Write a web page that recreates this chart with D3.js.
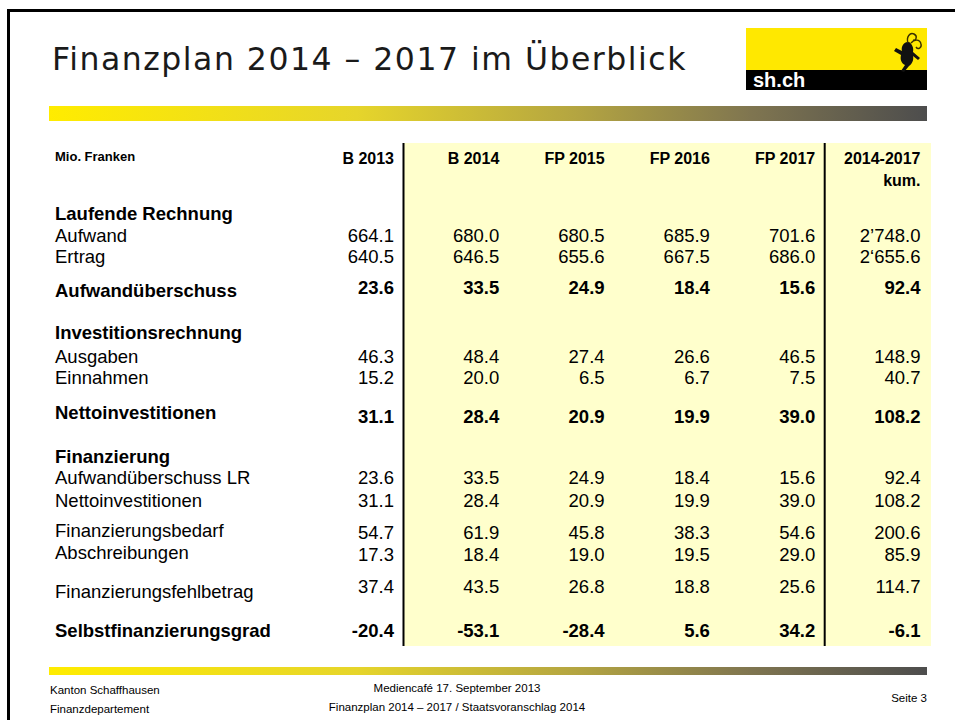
<!DOCTYPE html>
<html>
<meta charset="utf-8">
<script src="https://d3js.org/d3.v7.min.js"></script>
<style>
    body { margin: 0; background: #fff; }
    svg { display: block; }
    text { font-family: "Liberation Sans", Arial, sans-serif; fill: #000; }
</style>
<body>
<svg width="955" height="720"></svg>
<script>
    // table content
    const columns = ["B 2013", "B 2014", "FP 2015", "FP 2016", "FP 2017", "2014-2017"];
    const columnSub = ["", "", "", "", "", "kum."];
    const sections = ["Laufende Rechnung", "Investitionsrechnung", "Finanzierung"];
    const rowLabels = ["Aufwand", "Ertrag", "Aufwandüberschuss", "Ausgaben", "Einnahmen", "Nettoinvestitionen",
        "Aufwandüberschuss LR", "Nettoinvestitionen", "Finanzierungsbedarf", "Abschreibungen",
        "Finanzierungsfehlbetrag", "Selbstfinanzierungsgrad"];
    const rowBold = [false, false, true, false, false, true, false, false, false, false, false, true];
    const rowValues = [
        ["664.1", "680.0", "680.5", "685.9", "701.6", "2’748.0"],
        ["640.5", "646.5", "655.6", "667.5", "686.0", "2‘655.6"],
        ["23.6", "33.5", "24.9", "18.4", "15.6", "92.4"],
        ["46.3", "48.4", "27.4", "26.6", "46.5", "148.9"],
        ["15.2", "20.0", "6.5", "6.7", "7.5", "40.7"],
        ["31.1", "28.4", "20.9", "19.9", "39.0", "108.2"],
        ["23.6", "33.5", "24.9", "18.4", "15.6", "92.4"],
        ["31.1", "28.4", "20.9", "19.9", "39.0", "108.2"],
        ["54.7", "61.9", "45.8", "38.3", "54.6", "200.6"],
        ["17.3", "18.4", "19.0", "19.5", "29.0", "85.9"],
        ["37.4", "43.5", "26.8", "18.8", "25.6", "114.7"],
        ["-20.4", "-53.1", "-28.4", "5.6", "34.2", "-6.1"]
    ];
    const unitLabel = "Mio. Franken";
    const title = "Finanzplan 2014 – 2017 im Überblick";
    const footerLeft = ["Kanton Schaffhausen", "Finanzdepartement"];
    const footerCenter = ["Mediencafé 17. September 2013", "Finanzplan 2014 – 2017 / Staatsvoranschlag 2014"];
    const footerRight = "Seite 3";

    // layout (line slots, not data)
    const sectionSlot = [0, 5.5, 11.25];
    const rowSlot = [1, 2, 3.5, 6.6, 7.6, 9.3, 12.2, 13.3, 14.7, 15.75, 17.4, 19.3];
    const labelDy = [0, 0, 1.5, 0, 0, -2, 0, 0, -1, -1, 2.5, 0];
    const valueDy = [0, 0, -1.5, 0, 0, 2, 0, 0, 1, 1, -2.5, 0];

    const svg = d3.select("svg");

    const x = d3.scalePoint().domain(columns).range([394, 920.5]);
    const y = d3.scaleLinear().domain([0, 1]).range([220, 241.6]);
    const labelX = 55;

    // slide frame
    svg.append("rect").attr("x", 8.5).attr("y", 10.5).attr("width", 1000).attr("height", 1000)
        .attr("fill", "none").attr("stroke", "#000").attr("stroke-width", 3);

    // gradient for the bars
    const grad = svg.append("defs").append("linearGradient").attr("id", "bar");
    [[0, "#ffec00"], [0.35, "#e6d52b"], [0.6, "#b4a541"], [0.8, "#7f7550"], [1, "#4d4d4d"]]
        .forEach(s => grad.append("stop").attr("offset", s[0]).attr("stop-color", s[1]));

    svg.append("rect").attr("x", 49).attr("y", 106).attr("width", 878).attr("height", 15).attr("fill", "url(#bar)");
    svg.append("rect").attr("x", 49).attr("y", 667).attr("width", 878).attr("height", 8).attr("fill", "url(#bar)");

    // title
    svg.append("text").attr("x", 52).attr("y", 70)
        .style("font-family", "'DejaVu Sans', Verdana, sans-serif")
        .style("font-size", "31.5px").style("letter-spacing", "1.5px").style("fill", "#1a1a1a")
        .text(title);

    // logo
    const logo = svg.append("g").attr("transform", "translate(746,28)");
    logo.append("rect").attr("width", 181).attr("height", 62).attr("fill", "#ffe800");
    logo.append("rect").attr("y", 42).attr("width", 181).attr("height", 20).attr("fill", "#000");
    logo.append("text").attr("x", 7).attr("y", 59).style("font-weight", "bold").style("font-size", "20px")
        .style("fill", "#fff").text("sh.ch");
    // rearing ram
    const ram = logo.append("g").attr("transform", "translate(146,3)");
    ram.append("path").attr("fill", "#111")
        .attr("d", "M15,11 C11,12 9,16 10,20 L4,17 L2,20 L9,24 C8,28 9,32 13,34 L9,40 L12,41 L17,35 C20,33 22,29 21,25 L26,29 L28,27 L21,21 C22,17 20,13 17,11 Z");
    ram.append("path").attr("fill", "none").attr("stroke", "#3a3000").attr("stroke-width", 1.4)
        .attr("d", "M16,12 C14,6 18,1 22,3 C26,5 24,10 21,9 M19,12 C22,8 28,8 29,13 C30,17 26,19 24,16");

    // table background and lines
    const tableTop = 143, tableBottom = 646;
    svg.append("rect")
        .attr("x", x(columns[0]) + 9).attr("y", tableTop)
        .attr("width", x(columns[columns.length - 1]) + 10.5 - (x(columns[0]) + 9))
        .attr("height", tableBottom - tableTop)
        .attr("fill", "#ffffcc");
    [columns[0], columns[4]].forEach(c => {
        svg.append("line")
            .attr("x1", x(c) + 9.5).attr("x2", x(c) + 9.5)
            .attr("y1", tableTop).attr("y2", tableBottom)
            .attr("stroke", "#000").attr("stroke-width", 2);
    });

    // header
    svg.append("text").attr("x", labelX).attr("y", 161)
        .style("font-weight", "bold").style("font-size", "13px").text(unitLabel);
    svg.selectAll("text.colhead").data(columns).enter().append("text")
        .attr("class", "colhead")
        .attr("x", d => x(d)).attr("y", 164)
        .attr("text-anchor", "end")
        .style("font-weight", "bold").style("font-size", "16px")
        .text(d => d);
    svg.selectAll("text.colsub").data(columns).enter().append("text")
        .attr("class", "colsub")
        .attr("x", d => x(d)).attr("y", 186)
        .attr("text-anchor", "end")
        .style("font-weight", "bold").style("font-size", "16px")
        .text((d, i) => columnSub[i]);

    // section titles
    svg.selectAll("text.section").data(sections).enter().append("text")
        .attr("class", "section")
        .attr("x", labelX).attr("y", (d, i) => y(sectionSlot[i]))
        .style("font-weight", "bold").style("font-size", "18.5px")
        .text(d => d);

    // rows
    const rows = svg.selectAll("g.row").data(rowLabels).enter().append("g").attr("class", "row");
    rows.append("text")
        .attr("x", labelX).attr("y", (d, i) => y(rowSlot[i]) + labelDy[i])
        .style("font-weight", (d, i) => rowBold[i] ? "bold" : "normal")
        .style("font-size", "18.5px")
        .text(d => d);
    rows.each(function (d, i) {
        d3.select(this).selectAll("text.val").data(rowValues[i]).enter().append("text")
            .attr("class", "val")
            .attr("x", (v, j) => x(columns[j]))
            .attr("y", y(rowSlot[i]) + valueDy[i])
            .attr("text-anchor", "end")
            .style("font-weight", rowBold[i] ? "bold" : "normal")
            .style("font-size", "18.5px")
            .text(v => v);
    });

    // footer
    svg.selectAll("text.fl").data(footerLeft).enter().append("text")
        .attr("class", "fl").attr("x", 50).attr("y", (d, i) => 694 + i * 19)
        .style("font-size", "11.5px").text(d => d);
    svg.selectAll("text.fc").data(footerCenter).enter().append("text")
        .attr("class", "fc").attr("x", 457).attr("y", (d, i) => 692 + i * 19)
        .attr("text-anchor", "middle")
        .style("font-size", "11.5px").text(d => d);
    svg.append("text").attr("x", 927).attr("y", 702).attr("text-anchor", "end")
        .style("font-size", "11.5px").text(footerRight);
</script>
</body>
</html>
